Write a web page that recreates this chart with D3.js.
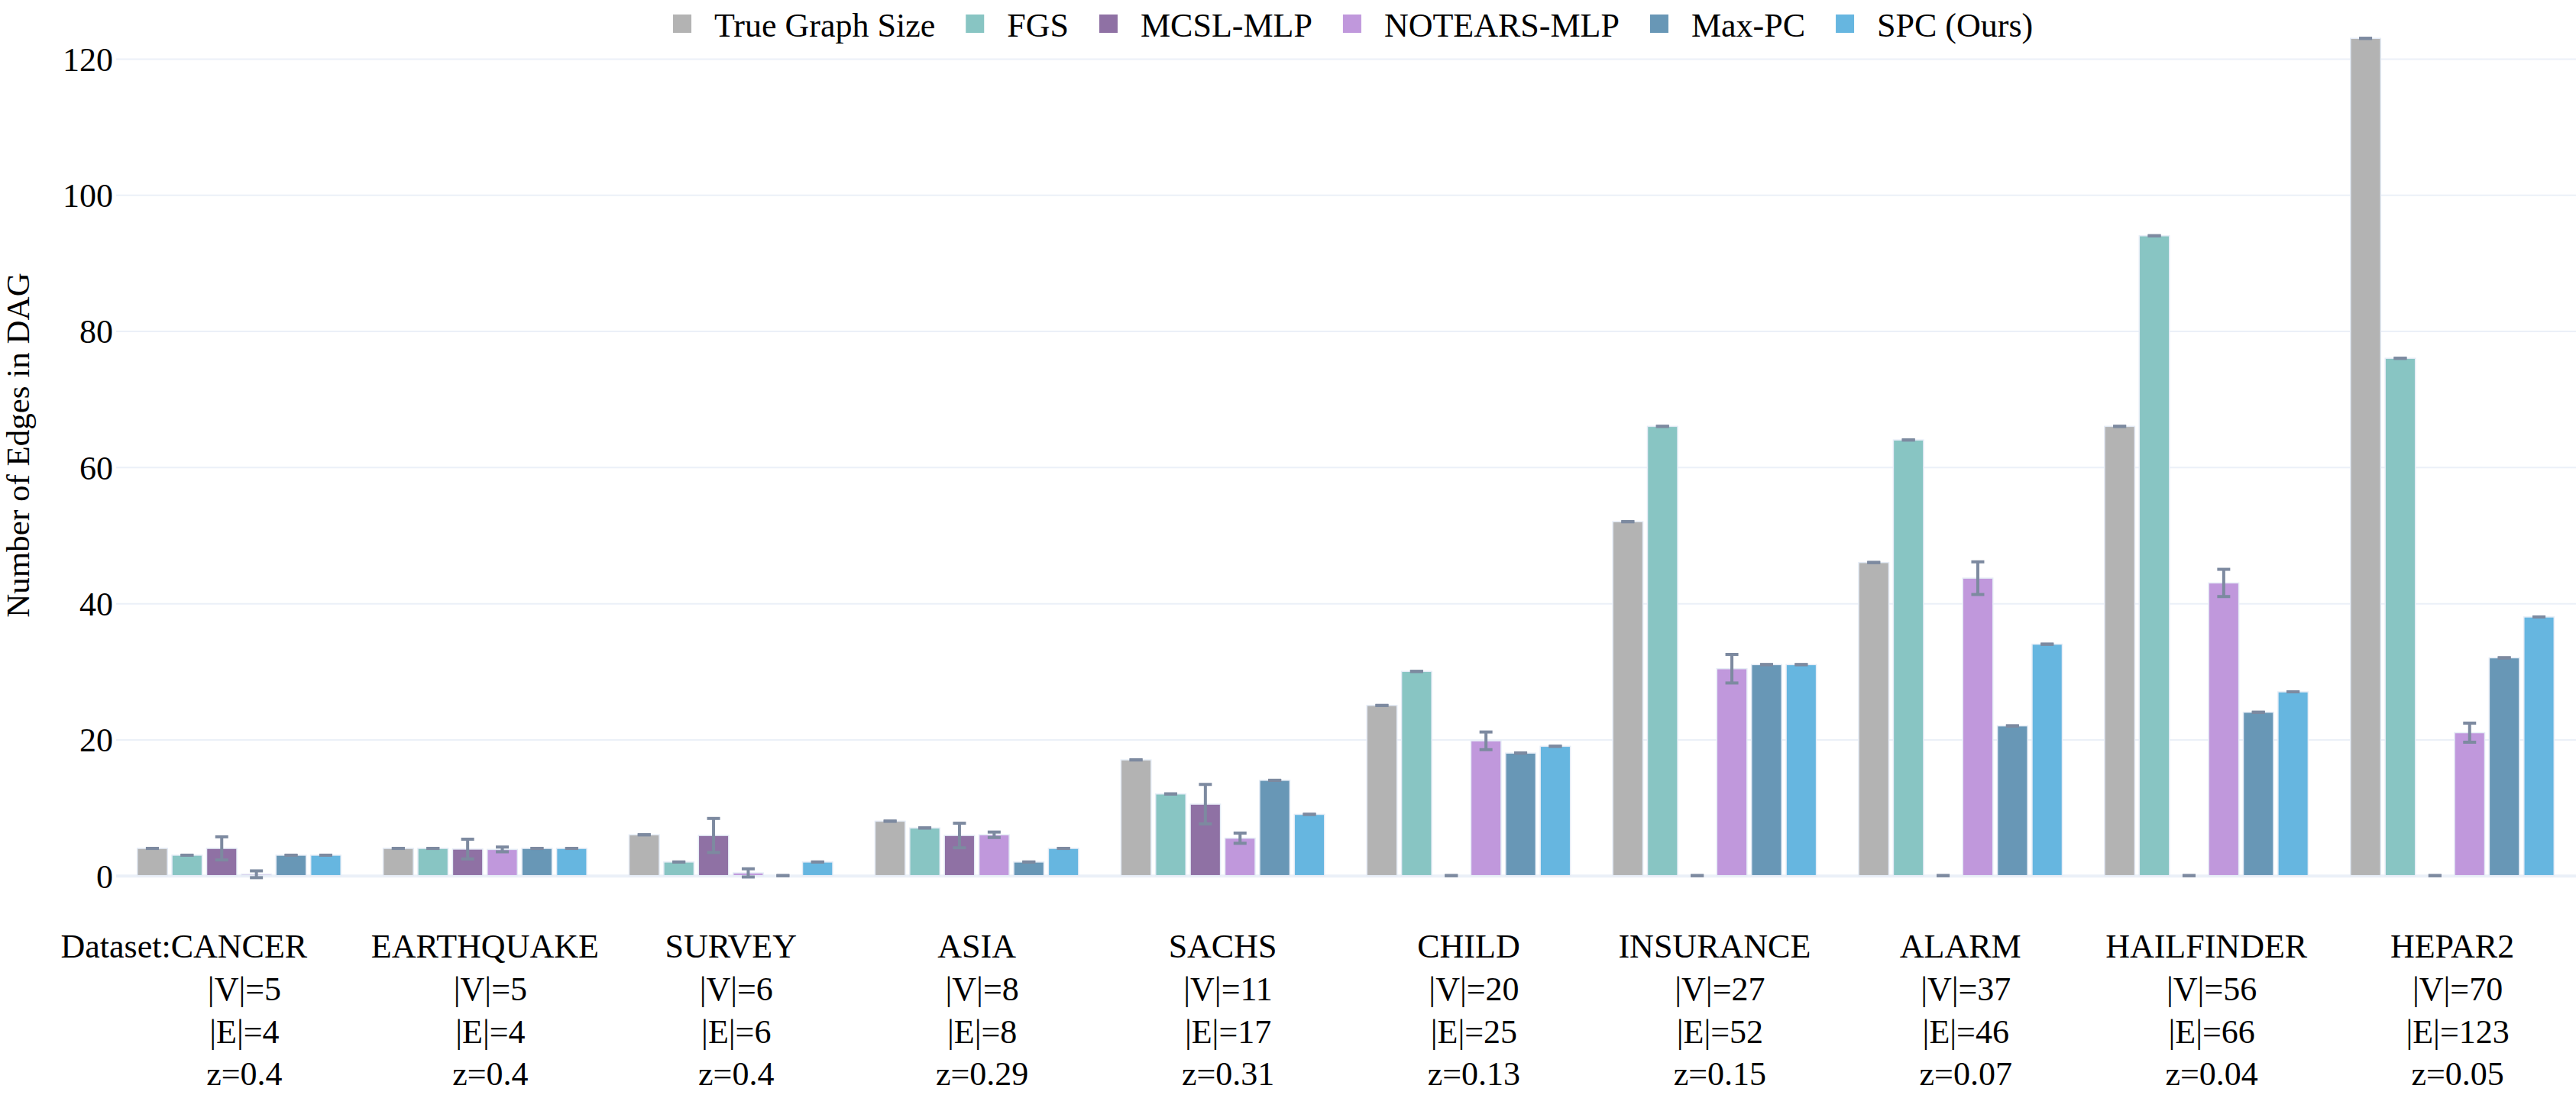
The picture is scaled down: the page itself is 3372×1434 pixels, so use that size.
<!DOCTYPE html>
<html>
<head>
<meta charset="utf-8">
<script src="https://cdn.jsdelivr.net/npm/d3@7"></script>
<style>
  body { margin: 0; background: #fff; }
</style>
</head>
<body>
<div id="chart"></div>
<script>
// datasets and their stats (x axis labels)
var datasets = ["CANCER", "EARTHQUAKE", "SURVEY", "ASIA", "SACHS", "CHILD", "INSURANCE", "ALARM", "HAILFINDER", "HEPAR2"];
var numNodes = [5, 5, 6, 8, 11, 20, 27, 37, 56, 70];
var numEdges = [4, 4, 6, 8, 17, 25, 52, 46, 66, 123];
var sparsity = ["0.4", "0.4", "0.4", "0.29", "0.31", "0.13", "0.15", "0.07", "0.04", "0.05"];

var methods = ["True Graph Size", "FGS", "MCSL-MLP", "NOTEARS-MLP", "Max-PC", "SPC (Ours)"];
var colors  = ["#b3b3b3", "#88c5c3", "#8f71a4", "#c098dc", "#6897b6", "#66b6e0"];

// edges found by each method (mean, std)
var trueSize    = [4, 4, 6, 8, 17, 25, 52, 46, 66, 123];
var fgs         = [3, 4, 2, 7, 12, 30, 66, 64, 94, 76];
var mcsl        = [4, 3.9, 5.9, 5.9, 10.5, 0, 0, 0, 0, 0];
var mcslErr     = [1.7, 1.45, 2.5, 1.8, 2.9, 0, 0, 0, 0, 0];
var notears     = [0.2, 3.85, 0.4, 6, 5.5, 19.8, 30.4, 43.7, 43, 21];
var notearsErr  = [0.5, 0.35, 0.6, 0.4, 0.75, 1.3, 2.1, 2.4, 2, 1.4];
var maxPC       = [3, 4, 0, 2, 14, 18, 31, 22, 24, 32];
var spc         = [3, 4, 2, 4, 9, 19, 31, 34, 27, 38];

var yTicks = [0, 20, 40, 60, 80, 100, 120];

var seriesVals = [trueSize, fgs, mcsl, notears, maxPC, spc];
var seriesErrs = [null, null, mcslErr, notearsErr, null, null];

var FONT = "'Liberation Serif', 'Times New Roman', Tinos, serif";
var W = 3372, H = 1434;
var plotLeft = 152, plotRight = 3371, zeroY = 1146.7, topY = 77;

var rows = [];
datasets.forEach(function(ds, i) {
  methods.forEach(function(m, j) {
    rows.push({
      dataset: ds, method: m, color: colors[j],
      value: seriesVals[j][i],
      err: seriesErrs[j] ? seriesErrs[j][i] : 0
    });
  });
});

var x0 = d3.scaleBand().domain(datasets)
  .range([plotLeft, plotRight]).paddingInner(0.1538).paddingOuter(0.0769);
var x1 = d3.scaleBand().domain(methods)
  .range([0, x0.bandwidth()]).paddingInner(0.13).paddingOuter(0.065);
var y = d3.scaleLinear().domain([0, 120]).range([zeroY, topY]);

var svg = d3.select("#chart").append("svg")
  .attr("width", W).attr("height", H)
  .attr("font-family", FONT);

// grid
var grid = svg.append("g").attr("class", "grid")
  .attr("transform", "translate(" + plotLeft + ",0)")
  .call(d3.axisLeft(y).tickValues(yTicks).tickSize(-(W - plotLeft)).tickFormat(""));
grid.select(".domain").remove();
grid.selectAll("line")
  .attr("stroke", "#ebf0f8")
  .attr("stroke-width", function(d) { return d === 0 ? 4 : 2; });

// y axis labels
var yAxis = svg.append("g")
  .attr("transform", "translate(" + (plotLeft - 4) + ",0)")
  .call(d3.axisLeft(y).tickValues(yTicks).tickSize(0).tickPadding(0));
yAxis.attr("font-family", FONT).attr("font-size", 44);
yAxis.select(".domain").remove();
yAxis.selectAll("text")
  .attr("font-family", FONT)
  .attr("font-size", 44)
  .attr("dy", "0.35em")
  .attr("fill", "#000");

svg.append("text")
  .attr("transform", "translate(38,583) rotate(-90)")
  .attr("text-anchor", "middle")
  .attr("font-family", FONT)
  .attr("font-size", 43)
  .text("Number of Edges in DAG");

// bars
var groups = svg.selectAll(".grp")
  .data(datasets).enter()
  .append("g")
  .attr("class", "grp")
  .attr("transform", function(d) { return "translate(" + x0(d) + ",0)"; });

groups.selectAll("rect")
  .data(function(d) { return rows.filter(function(r) { return r.dataset === d; }); })
  .enter().append("rect")
  .attr("x", function(d) { return x1(d.method); })
  .attr("y", function(d) { return y(d.value); })
  .attr("width", x1.bandwidth())
  .attr("height", function(d) { return zeroY - y(d.value); })
  .attr("fill", function(d) { return d.color; })
  .attr("stroke", "#e5ecf6")
  .attr("stroke-width", 1.5);

// error bars
var errColor = "#7d8aa0", capW = 17;
var eb = groups.selectAll(".err")
  .data(function(d) { return rows.filter(function(r) { return r.dataset === d; }); })
  .enter().append("g").attr("class", "err")
  .attr("transform", function(d) { return "translate(" + (x1(d.method) + x1.bandwidth() / 2) + ",0)"; });
eb.append("line")
  .attr("y1", function(d) { return y(d.value + d.err); })
  .attr("y2", function(d) { return y(d.value - d.err); })
  .attr("stroke", errColor).attr("stroke-width", 4);
eb.append("line")
  .attr("x1", -capW / 2).attr("x2", capW / 2)
  .attr("y1", function(d) { return y(d.value + d.err); })
  .attr("y2", function(d) { return y(d.value + d.err); })
  .attr("stroke", errColor).attr("stroke-width", 4);
eb.append("line")
  .attr("x1", -capW / 2).attr("x2", capW / 2)
  .attr("y1", function(d) { return y(d.value - d.err); })
  .attr("y2", function(d) { return y(d.value - d.err); })
  .attr("stroke", errColor).attr("stroke-width", 4);

// x axis labels (multi-line)
var xAxis = svg.append("g")
  .attr("transform", "translate(0," + zeroY + ")")
  .call(d3.axisBottom(x0).tickSize(0).tickFormat(""));
xAxis.attr("font-family", FONT);
xAxis.select(".domain").remove();
xAxis.selectAll(".tick text").remove();
xAxis.selectAll(".tick").each(function(d, i) {
  var t = d3.select(this).append("text")
    .attr("text-anchor", "middle")
    .attr("font-family", FONT)
    .attr("font-size", 44)
    .attr("fill", "#000")
    .attr("y", 107);
  t.append("tspan").attr("x", 0).text(d);
  t.append("tspan").attr("x", 7).attr("dy", 56.5).text("|V|=" + numNodes[i]);
  t.append("tspan").attr("x", 7).attr("dy", 56).text("|E|=" + numEdges[i]);
  t.append("tspan").attr("x", 7).attr("dy", 55).text("z=" + sparsity[i]);
});

// "Dataset:" prefix ahead of first name
var firstName = xAxis.select(".tick text tspan").node();
var firstW = firstName.getComputedTextLength();
svg.append("text")
  .attr("x", x0(datasets[0]) + x0.bandwidth() / 2 - firstW / 2)
  .attr("y", zeroY + 107)
  .attr("text-anchor", "end")
  .attr("font-family", FONT)
  .attr("font-size", 44)
  .text("Dataset:");

// legend
var legend = svg.append("g").attr("class", "legend");
var lx = 881;
methods.forEach(function(m, j) {
  var item = legend.append("g").attr("transform", "translate(" + lx + ",0)");
  item.append("rect")
    .attr("x", 0).attr("y", 19).attr("width", 24).attr("height", 24)
    .attr("fill", colors[j]);
  var txt = item.append("text")
    .attr("x", 54).attr("y", 48)
    .attr("font-family", FONT)
    .attr("font-size", 44)
    .text(m);
  lx += 54 + txt.node().getComputedTextLength() + 40;
});
</script>
</body>
</html>
